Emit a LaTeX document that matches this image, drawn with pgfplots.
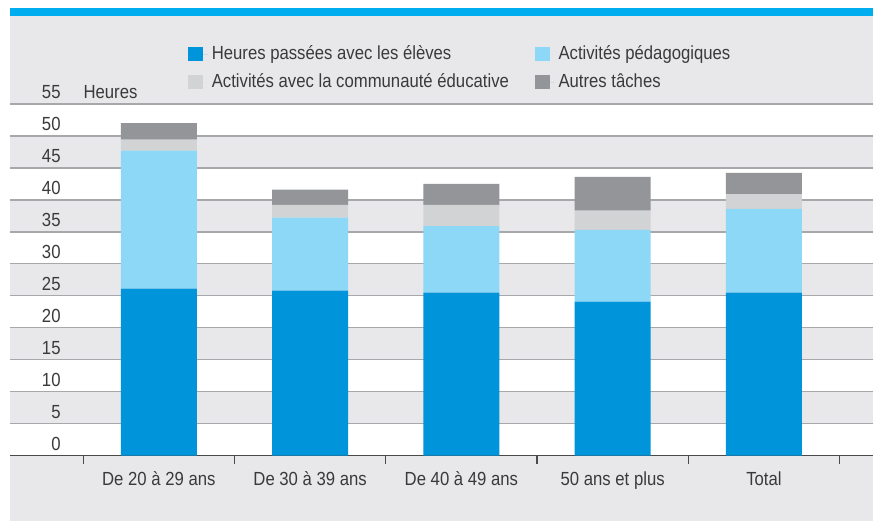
\documentclass[border=0pt]{standalone}
\usepackage{fontspec}
\setmainfont[FakeStretch=0.88]{Liberation Sans}
\usepackage{pgfplots}
\pgfplotsset{compat=1.18}
\definecolor{bgcol}{HTML}{E8E8EA}
\definecolor{topblue}{HTML}{00AEEF}
\definecolor{gridcol}{HTML}{A6A8AB}
\definecolor{axiscol}{HTML}{4A4A4A}
\definecolor{textcol}{HTML}{3A3A3A}
\definecolor{cA}{HTML}{0095DA}
\definecolor{cB}{HTML}{8DD7F7}
\definecolor{cC}{HTML}{D1D3D4}
\definecolor{cD}{HTML}{939598}
\begin{document}
\fontsize{9.5pt}{11pt}\selectfont
\begin{tikzpicture}[font=\fontsize{9.5pt}{11pt}\selectfont]
\path (-5pt,-34pt) rectangle (432pt,228pt);
\fill[bgcol] (0pt,-32.5pt) rectangle (432pt,220pt);
\fill[topblue] (0pt,220pt) rectangle (432pt,224pt);
\fill[white] (0pt,0pt) rectangle (432pt,16pt);
\fill[white] (0pt,32pt) rectangle (432pt,48pt);
\fill[white] (0pt,64pt) rectangle (432pt,80pt);
\fill[white] (0pt,96pt) rectangle (432pt,112pt);
\fill[white] (0pt,128pt) rectangle (432pt,144pt);
\fill[white] (0pt,160pt) rectangle (432pt,176pt);
\begin{axis}[
  scale only axis, width=432pt, height=176pt,
  clip=false,
  xmin=-0.984, xmax=4.723, ymin=0, ymax=55,
  ytick={0,5,...,55},
  ymajorgrids, grid style={gridcol, line width=0.7pt},
  axis x line*=bottom, axis y line*=left,
  y axis line style={draw=none},
  x axis line style={axiscol, line width=0.6pt},
  ytick style={draw=none},
  xtick={0,1,2,3,4},
  xticklabels={De 20 à 29 ans, De 30 à 39 ans, De 40 à 49 ans, 50 ans et plus, Total},
  minor xtick={-0.5,0.5,1.5,2.5,3.5,4.5},
  major tick length=0pt, minor tick length=4pt, tick align=outside,
  xtick style={axiscol, line width=0.6pt},
  /pgf/number format/assume math mode=true,
  tick label style={text=textcol, font=\fontsize{9.5pt}{11pt}\selectfont},
  yticklabel style={anchor=base east, inner sep=0pt, xshift=25.5pt, yshift=2.5pt},
  xticklabel style={anchor=base, inner sep=0pt, yshift=-15pt},
  ybar stacked, bar width=38pt,
  legend columns=2,
  legend cell align=left,
  legend image code/.code={\fill[#1,draw=none] (0pt,-3.5pt) rectangle (7.5pt,3.5pt); \path (0pt,0pt) -- (10pt,0pt);},
  legend style={at={(0.206,1.176)}, anchor=north west, draw=none, fill=none,
    inner sep=0pt, outer sep=0pt, text=textcol,
    font=\fontsize{9.5pt}{11pt}\selectfont,
    row sep=1.5pt,
    /tikz/every even column/.append style={column sep=0pt}},
]
\addplot[fill=cA, draw=none] coordinates {(0,26.1) (1,25.8) (2,25.5) (3,24.1) (4,25.5)};
\addlegendentry{\makebox[159.5pt][l]{Heures passées avec les élèves}}
\addplot[fill=cB, draw=none] coordinates {(0,21.6) (1,11.4) (2,10.4) (3,11.2) (4,13.1)};
\addlegendentry{Activités pédagogiques}
\addplot[fill=cC, draw=none] coordinates {(0,1.7) (1,2.0) (2,3.3) (3,3.0) (4,2.3)};
\addlegendentry{\makebox[159.5pt][l]{Activités avec la communauté éducative}}
\addplot[fill=cD, draw=none] coordinates {(0,2.6) (1,2.4) (2,3.3) (3,5.3) (4,3.3)};
\addlegendentry{Autres tâches}
\node[anchor=base west, inner sep=0pt, yshift=2.5pt, text=textcol] at (axis cs:-0.5,55) {Heures};
\end{axis}
\end{tikzpicture}
\end{document}
